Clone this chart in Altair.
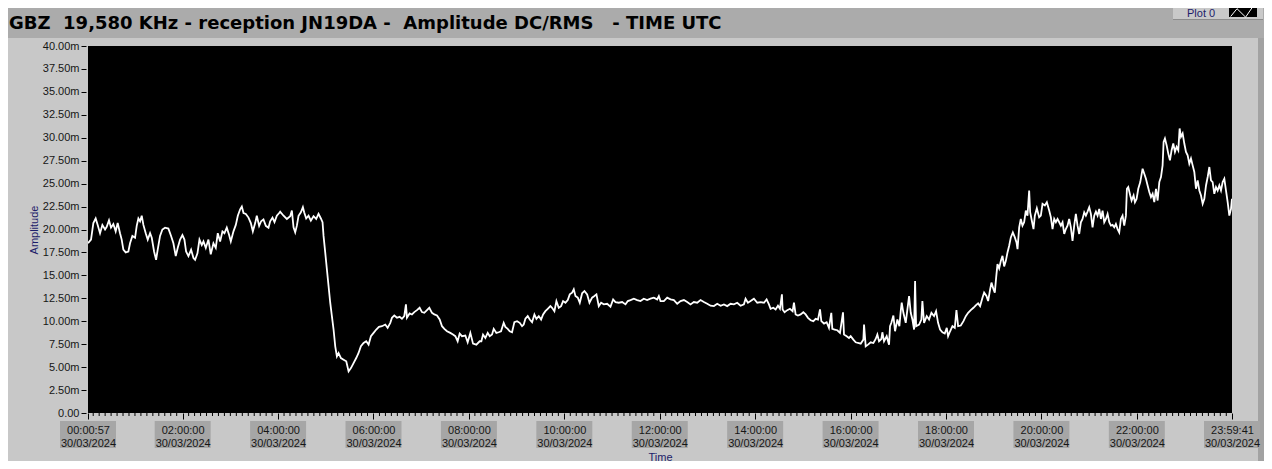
import altair as alt
import pandas as pd

# ---------------- text ----------------
TITLE = "GBZ\u00a0 19,580 KHz - reception JN19DA -\u00a0 Amplitude DC/RMS \u00a0 - TIME UTC"
X_TITLE = "Time"
Y_TITLE = "Amplitude"
LEGEND_LABEL = "Plot 0"
DAY = "2024-03-30"
START_H = 57 / 3600                    # 00:00:57
END_H = 23 + 59 / 60 + 41 / 3600       # 23:59:41

# ---------------- data: (hour of day UTC, amplitude in mV) ----------------
night = [
    (0.016, 18.5), (0.079, 18.9), (0.128, 20.7), (0.177, 21.2), (0.219, 20.5), (0.268, 19.6),
    (0.317, 20.5), (0.373, 20.0), (0.408, 20.3), (0.456, 21.0), (0.498, 20.2), (0.547, 20.6),
    (0.596, 19.8), (0.638, 20.7), (0.687, 19.6), (0.722, 18.9), (0.757, 17.8), (0.806, 17.5),
    (0.862, 17.6), (0.897, 18.5), (0.946, 19.3), (1.002, 19.1), (1.037, 20.4), (1.072, 21.2),
    (1.107, 20.9), (1.142, 21.5), (1.177, 20.5), (1.226, 19.6), (1.268, 18.9), (1.317, 19.6),
    (1.352, 19.1), (1.401, 17.6), (1.443, 16.7), (1.477, 17.8), (1.526, 19.3), (1.575, 20.0),
    (1.631, 20.2), (1.701, 20.1), (1.757, 19.3), (1.806, 18.5), (1.855, 17.1), (1.897, 18.0),
    (1.946, 18.9), (1.995, 19.4), (2.037, 18.9), (2.072, 17.6), (2.121, 17.1), (2.177, 17.8),
    (2.226, 16.9), (2.261, 16.7), (2.310, 17.4), (2.352, 18.9), (2.401, 18.3), (2.436, 18.7),
    (2.485, 18.0), (2.540, 18.9), (2.589, 17.3), (2.645, 18.5), (2.694, 18.0), (2.736, 19.6),
    (2.785, 18.7), (2.834, 19.8), (2.876, 19.6), (2.925, 20.2), (2.974, 19.4), (3.009, 18.7),
    (3.065, 19.8), (3.114, 20.5), (3.156, 21.5), (3.205, 22.2), (3.240, 22.5), (3.275, 21.8),
    (3.324, 21.7), (3.380, 21.3), (3.429, 20.7), (3.471, 19.8), (3.520, 20.7), (3.554, 21.5),
    (3.603, 20.4), (3.645, 20.9), (3.694, 21.1), (3.743, 20.4), (3.799, 20.2), (3.834, 20.9),
    (3.883, 21.3), (3.925, 20.8), (3.974, 21.5), (4.023, 21.8),
]
drop = [
    (4.044, 21.95), (4.114, 21.5), (4.184, 21.15), (4.254, 21.45), (4.289, 22.06), (4.324, 20.24),
    (4.359, 19.69), (4.394, 20.42), (4.429, 21.5), (4.478, 21.88), (4.520, 22.43), (4.547, 21.88),
    (4.589, 21.2), (4.638, 21.5), (4.687, 20.97), (4.743, 21.45), (4.799, 21.15), (4.848, 21.7),
    (4.897, 21.2), (4.932, 20.8), (4.953, 19.3), (4.988, 17.5), (5.023, 15.67), (5.058, 13.84),
    (5.093, 12.02), (5.128, 10.56), (5.163, 9.1), (5.198, 7.27), (5.233, 6.17), (5.268, 6.54),
    (5.317, 5.99), (5.373, 5.81), (5.429, 5.63), (5.478, 4.53), (5.527, 4.89), (5.582, 5.44),
    (5.638, 5.99), (5.687, 6.54), (5.736, 7.27), (5.792, 7.63), (5.848, 7.82), (5.897, 7.45),
    (5.946, 8.37), (6.002, 8.73), (6.058, 9.1), (6.114, 9.39), (6.177, 9.46), (6.247, 9.64),
    (6.296, 9.28), (6.352, 9.83), (6.387, 10.38), (6.436, 10.63), (6.492, 10.38), (6.547, 10.48),
    (6.596, 10.27), (6.645, 10.56), (6.680, 11.84), (6.701, 10.38), (6.757, 10.85), (6.806, 10.74),
    (6.855, 11.0), (6.911, 11.21), (6.967, 11.47), (7.016, 11.0), (7.065, 10.92), (7.121, 11.21),
    (7.170, 11.47), (7.226, 10.92), (7.275, 10.74), (7.331, 10.63), (7.387, 10.19), (7.436, 9.46),
    (7.485, 9.17), (7.541, 8.91), (7.610, 8.73), (7.666, 8.55), (7.715, 8.37), (7.764, 7.82),
    (7.806, 8.66), (7.855, 8.37), (7.925, 8.44), (7.974, 7.71), (8.030, 8.73), (8.086, 7.56),
    (8.156, 7.45), (8.226, 7.82),
]
morning = [
    (8.261, 7.82), (8.296, 8.55), (8.345, 8.18), (8.394, 8.73), (8.436, 8.37), (8.485, 8.55),
    (8.520, 9.17), (8.575, 8.73), (8.624, 8.8), (8.673, 8.91), (8.729, 9.83), (8.764, 9.39),
    (8.813, 9.17), (8.855, 8.91), (8.904, 8.8), (8.953, 9.9), (9.009, 10.01), (9.065, 9.83),
    (9.114, 9.46), (9.149, 9.64), (9.184, 10.27), (9.233, 10.56), (9.275, 10.19), (9.324, 9.9),
    (9.373, 10.74), (9.415, 10.27), (9.464, 10.56), (9.513, 10.19), (9.555, 10.74), (9.603, 11.1),
    (9.652, 11.36), (9.708, 11.65), (9.743, 11.47), (9.792, 11.1), (9.834, 12.2), (9.883, 11.47),
    (9.932, 11.65), (9.974, 12.2), (10.023, 12.02), (10.072, 12.31), (10.114, 12.93), (10.163, 13.12),
    (10.198, 13.48), (10.233, 12.75), (10.282, 12.57), (10.324, 12.02), (10.373, 13.05), (10.422, 13.3),
    (10.478, 12.93), (10.527, 12.02), (10.582, 12.57), (10.631, 12.75), (10.673, 12.93), (10.722, 11.65),
    (10.771, 12.02), (10.827, 11.84), (10.897, 11.9), (10.967, 11.58), (11.023, 12.38), (11.072, 12.09),
    (11.142, 12.02), (11.212, 12.09), (11.282, 11.84), (11.331, 12.2), (11.387, 12.31), (11.457, 12.46),
    (11.527, 12.31), (11.596, 12.2), (11.666, 12.46), (11.736, 12.31), (11.806, 12.46), (11.876, 12.57),
    (11.946, 12.38), (11.981, 12.75),
]
midday = [
    (12.016, 12.2), (12.086, 12.2), (12.156, 12.57), (12.226, 12.38), (12.296, 12.31), (12.366, 11.9),
    (12.436, 12.2), (12.506, 12.31), (12.575, 12.09), (12.645, 11.84), (12.715, 12.09), (12.785, 12.02),
    (12.855, 12.31), (12.925, 12.09), (12.995, 11.9), (13.065, 11.69), (13.135, 11.65), (13.205, 11.9),
    (13.275, 11.69), (13.345, 11.84), (13.415, 11.65), (13.485, 11.9), (13.554, 11.84), (13.624, 12.02),
    (13.694, 11.69), (13.764, 11.84), (13.799, 12.46), (13.848, 12.02), (13.904, 12.2), (13.974, 12.46),
    (14.044, 12.02), (14.114, 12.09), (14.184, 12.02), (14.240, 12.38), (14.289, 11.84), (14.324, 11.36),
    (14.380, 11.47), (14.429, 11.29), (14.478, 11.69), (14.519, 11.36), (14.561, 12.93), (14.575, 11.29),
    (14.617, 10.98), (14.673, 11.21), (14.729, 11.36), (14.785, 11.1), (14.813, 12.02), (14.848, 10.74),
    (14.897, 10.63), (14.953, 10.74), (15.009, 10.98), (15.058, 10.74), (15.107, 10.37), (15.163, 10.11),
    (15.219, 10.01), (15.268, 10.27), (15.317, 10.19), (15.359, 11.29), (15.387, 10.01), (15.443, 9.75),
    (15.498, 9.9), (15.547, 9.28), (15.596, 10.92), (15.617, 9.17), (15.666, 9.1), (15.722, 9.02),
    (15.778, 8.73), (15.841, 10.98), (15.862, 8.55), (15.918, 8.37), (15.967, 8.18),
]
afternoon = [
    (16.002, 8.37), (16.058, 8.0), (16.107, 7.71), (16.156, 7.63), (16.212, 7.56), (16.268, 8.0),
    (16.282, 9.64), (16.317, 7.27), (16.366, 7.45), (16.422, 7.71), (16.478, 7.63), (16.526, 8.07),
    (16.561, 8.55), (16.596, 7.82), (16.645, 8.07), (16.666, 8.8), (16.701, 7.82), (16.757, 8.37),
    (16.806, 7.45), (16.827, 9.46), (16.855, 9.83), (16.897, 10.63), (16.932, 8.91), (16.981, 10.19),
    (17.023, 9.46), (17.051, 11.1), (17.072, 12.02), (17.107, 10.92), (17.156, 9.83), (17.191, 11.29),
    (17.226, 12.75), (17.261, 10.92), (17.296, 10.19), (17.331, 9.1), (17.352, 14.39), (17.373, 9.46),
    (17.436, 9.64), (17.484, 10.19), (17.505, 12.2), (17.540, 9.83), (17.596, 10.56), (17.645, 10.19),
    (17.694, 10.92), (17.750, 10.56), (17.792, 11.1), (17.834, 9.83), (17.876, 9.1), (17.925, 8.8),
    (17.974, 8.66), (18.016, 9.28), (18.044, 8.37), (18.086, 8.91), (18.135, 9.46), (18.184, 9.28),
    (18.219, 11.21), (18.254, 9.46), (18.310, 9.53), (18.366, 10.01), (18.415, 10.56), (18.464, 10.92),
    (18.519, 11.21), (18.575, 11.47), (18.624, 11.73), (18.673, 11.95), (18.715, 11.65), (18.764, 12.57),
    (18.799, 13.12), (18.848, 12.75), (18.883, 12.2), (18.925, 13.48), (18.953, 14.21), (18.995, 13.48),
    (19.023, 13.12), (19.051, 14.76), (19.079, 16.22), (19.114, 15.75), (19.149, 16.58), (19.184, 17.13),
    (19.219, 15.97), (19.254, 16.58), (19.289, 17.5), (19.324, 18.23), (19.359, 19.14), (19.401, 19.69),
    (19.443, 19.14), (19.478, 18.6), (19.499, 17.86), (19.534, 20.24), (19.568, 21.15), (19.603, 20.42),
    (19.638, 20.79), (19.673, 22.06), (19.708, 21.51), (19.743, 24.25), (19.764, 21.88), (19.792, 21.15),
    (19.834, 20.05), (19.862, 21.51), (19.904, 22.32), (19.953, 21.33),
]
evening = [
    (19.988, 21.51), (20.023, 22.8), (20.072, 22.61), (20.114, 22.98), (20.163, 22.06), (20.198, 21.33),
    (20.233, 20.05), (20.268, 21.15), (20.303, 20.79), (20.338, 21.15), (20.373, 20.79), (20.408, 20.42),
    (20.443, 20.79), (20.478, 19.51), (20.512, 20.05), (20.547, 20.42), (20.582, 21.15), (20.617, 20.24),
    (20.652, 18.77), (20.687, 20.42), (20.722, 21.7), (20.757, 20.42), (20.792, 19.51), (20.827, 20.79),
    (20.862, 21.15), (20.897, 21.88), (20.932, 21.51), (20.967, 21.95), (21.002, 22.43), (21.037, 21.7),
    (21.072, 20.24), (21.107, 21.51), (21.142, 21.95), (21.177, 21.51), (21.212, 22.25), (21.247, 21.15),
    (21.282, 22.06), (21.317, 20.79), (21.352, 21.15), (21.387, 21.7), (21.422, 20.79), (21.457, 20.42),
    (21.492, 20.5), (21.527, 20.24), (21.561, 20.6), (21.596, 20.05), (21.631, 19.69), (21.666, 21.15),
    (21.701, 21.51), (21.736, 20.42), (21.771, 21.51), (21.792, 24.44), (21.820, 24.62), (21.862, 23.71),
    (21.890, 23.16), (21.932, 23.71), (21.960, 22.98), (21.995, 23.34), (22.030, 24.44), (22.072, 25.17),
    (22.121, 26.63), (22.156, 26.08), (22.191, 25.53), (22.226, 24.8), (22.261, 24.08), (22.296, 23.53),
    (22.331, 23.89), (22.366, 22.98), (22.401, 24.44), (22.436, 23.16), (22.471, 25.17), (22.506, 25.72),
    (22.540, 26.99), (22.561, 29.55), (22.589, 29.92), (22.624, 29.19), (22.659, 28.27), (22.694, 27.54),
    (22.729, 28.64), (22.764, 29.37), (22.799, 28.46), (22.834, 29.01), (22.869, 28.64), (22.897, 31.01),
    (22.925, 30.1), (22.960, 30.47), (22.995, 29.37), (23.030, 28.46), (23.065, 28.09), (23.100, 27.18),
    (23.135, 27.73), (23.170, 26.99), (23.205, 26.27), (23.240, 24.44), (23.275, 25.35), (23.310, 24.25),
    (23.345, 23.71), (23.380, 22.8), (23.415, 23.34), (23.450, 24.8), (23.485, 25.72), (23.520, 26.81),
    (23.554, 25.35), (23.589, 25.17), (23.624, 23.89), (23.659, 24.62), (23.694, 24.25), (23.729, 24.8),
    (23.764, 24.25), (23.799, 25.17), (23.834, 25.53), (23.869, 24.25), (23.904, 22.98), (23.939, 21.51),
    (23.974, 22.25), (23.994, 23.34),
]

major_tick_hours = [START_H, 2, 4, 6, 8, 10, 12, 14, 16, 18, 20, 22, END_H]
minor_tick_hours = [i / 8 for i in range(1, 192) if i % 16 != 0]
y_tick_values = [i * 2.5 for i in range(17)]

# ---------------- build tables ----------------
BASE_MS = int(pd.Timestamp(DAY, tz="UTC").value // 10**6)


def to_ms(h):
    return BASE_MS + int(round(h * 3600000))


samples = night + drop + morning + midday + afternoon + evening
df = pd.DataFrame({"t": [to_ms(h) for h, _ in samples], "amp": [v for _, v in samples]})
df_major = pd.DataFrame({"t": [to_ms(h) for h in major_tick_hours]})
df_minor = pd.DataFrame({"t": [to_ms(h) for h in minor_tick_hours]})
one = pd.DataFrame({"k": [0]})

W, H = 1144, 367
FONT = "Liberation Sans"
LABEL_COLOR = "#161616"
NAVY = "#1c1c6a"

x_scale = alt.Scale(type="utc", domain=[to_ms(START_H), to_ms(END_H)], nice=False)
x_axis = alt.Axis(
    values=[to_ms(h) for h in major_tick_hours],
    labelExpr="[utcFormat(datum.value, '%H:%M:%S'), utcFormat(datum.value, '%d/%m/%Y')]",
    labelFont=FONT, labelFontSize=11, labelColor=LABEL_COLOR, labelLineHeight=13,
    labelBaseline="top", labelAlign="center", labelPadding=5,
    labelOverlap=False, labelFlush=False, labelBound=False,
    tickSize=6, tickColor="#000000", tickWidth=1,
    domain=False, grid=False,
    title=X_TITLE, titleFont=FONT, titleFontSize=11, titleFontWeight="normal",
    titleColor=NAVY, titleY=47, titleBaseline="alphabetic", titleAnchor="middle",
    zindex=1,
)
y_scale = alt.Scale(domain=[0, 40], nice=False, zero=True)
y_axis = alt.Axis(
    values=y_tick_values,
    labelExpr="datum.value == 0 ? '0.00' : format(datum.value, '.2f') + 'm'",
    labelFont=FONT, labelFontSize=11, labelColor=LABEL_COLOR, labelPadding=2,
    labelOverlap=False, labelFlush=False, labelBound=False,
    tickSize=5, tickColor="#000000", tickWidth=1, offset=2,
    domain=False, grid=False,
    title=Y_TITLE, titleFont=FONT, titleFontSize=11, titleFontWeight="normal",
    titleColor=NAVY, titleAngle=270, titleX=-51.5, titleY=H / 2,
    titleAlign="center", titleBaseline="middle",
    zindex=1,
)
X = alt.X("t:T", scale=x_scale, axis=x_axis)
Y = alt.Y("amp:Q", scale=y_scale, axis=y_axis)


def band(x0, x1, y0, y1, color):
    return alt.Chart(one).mark_rect(color=color, strokeWidth=0).encode(
        x=alt.value(x0), x2=alt.value(x1), y=alt.value(y0), y2=alt.value(y1)
    )


# window chrome
top_band = band(-80, 1180, -40, -8, "#ababab")
right_1 = band(1170, 1180, -8, 420, "#a2a2a2")
legend_box = band(1085, 1175, -40, -26, "#c9c9c9")
legend_shadow = band(1085, 1175, -27, -26, "#8c8c8c")
legend_swatch = band(1141, 1169, -43, -29, "#000000")

legend_icon = alt.Chart(one).mark_point(
    shape="M-0.95,0.5L-0.46,-0.1L0.2,0.55L0.92,-0.5",
    size=676, filled=False, stroke="white", strokeWidth=1, opacity=1,
).encode(x=alt.value(1155), y=alt.value(-36))

legend_text = alt.Chart(one).mark_text(
    text=LEGEND_LABEL, font=FONT, fontSize=11, color=NAVY, align="left", baseline="alphabetic"
).encode(x=alt.value(1099), y=alt.value(-29.5))

title = alt.Chart(one).mark_text(
    text=TITLE, font="DejaVu Sans", fontSize=18, fontWeight="bold", color="#000000",
    align="left", baseline="alphabetic",
).encode(x=alt.value(-79), y=alt.value(-17))

# grey boxes behind the time labels
label_boxes = alt.Chart(df_major).mark_point(
    shape="M-1,-0.482H1V0.482H-1Z", size=3136, filled=True,
    fill="#a6a6a6", strokeWidth=0, opacity=1,
).encode(x=X, y=alt.value(388.5))

minor_ticks = alt.Chart(df_minor).mark_rule(color="#000000", strokeWidth=1).encode(
    x=X, y=alt.value(H), y2=alt.value(H + 3)
)

line = alt.Chart(df).mark_line(color="white", strokeWidth=1.8, clip=True).encode(x=X, y=Y)

chart = alt.layer(
    top_band, right_1,
    legend_box, legend_shadow, legend_swatch, legend_icon, legend_text,
    title, label_boxes, minor_ticks, line,
).properties(
    width=W, height=H,
    padding={"left": 80, "top": 38, "right": 32, "bottom": 48},
    autosize=alt.AutoSizeParams(type="none"),
    background="#c8c8c8",
).configure_view(fill="#000000", strokeWidth=0)

chart.save("out.html", embed_options={"renderer": "svg", "actions": False})
